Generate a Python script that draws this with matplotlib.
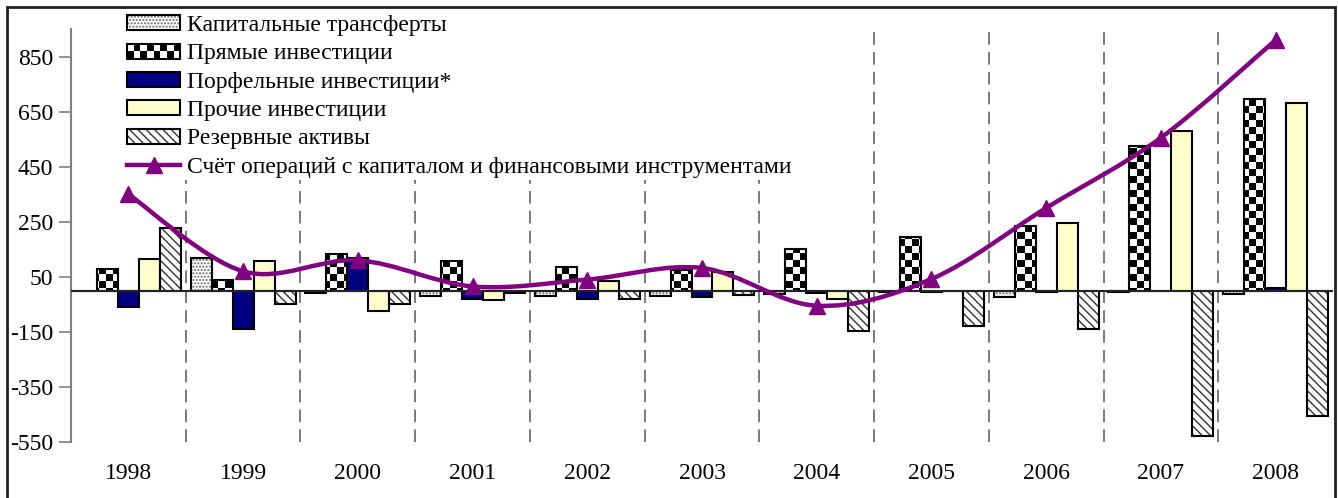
import numpy as np
import matplotlib.pyplot as plt
from matplotlib.patches import Rectangle, Patch, PathPatch
from matplotlib.path import Path
from matplotlib.lines import Line2D
from matplotlib.legend_handler import HandlerBase

plt.rcParams['font.family'] = ['Liberation Serif', 'DejaVu Serif']
plt.rcParams['hatch.linewidth'] = 1.0
plt.rcParams['axes.unicode_minus'] = False

years = ['1998', '1999', '2000', '2001', '2002', '2003', '2004', '2005', '2006', '2007', '2008']
capital = [0, 120, -10, -20, -20, -18, -12, -5, -23, -5, -14]
direct = [79, 40, 132, 107, 86, 76, 152, 194, 234, 525, 694]
portfolio = [-60, -139, 118, -30, -29, -25, -8, -5, -4, -3, 10]
other = [116, 109, -76, -33, 36, 68, -30, 0, 245, 579, 682]
reserves = [229, -50, -50, -10, -29, -16, -148, -130, -141, -530, -455]
account = [350, 70, 110, 15, 40, 82, -55, 42, 300, 555, 910]

labels = ['Капитальные трансферты', 'Прямые инвестиции', 'Порфельные инвестиции*',
          'Прочие инвестиции', 'Резервные активы',
          'Счёт операций с капиталом и финансовыми инструментами']

NAVY = '#000080'
YELLOW = '#FFFFCC'
PURPLE = '#800080'

W, H = 1338, 498
fig = plt.figure(figsize=(W / 100, H / 100), dpi=100)
ax = fig.add_axes([71 / W, 1 - 442 / H, (1333 - 71) / W, (442 - 29) / H])

x = np.arange(len(years))
bw = 0.183
ymin, ymax = -550, 950

# vertical dashed separators between years
for sep in np.arange(0.5, len(years) - 0.5):
    ax.axvline(sep, color='#707070', lw=1.3, ls=(0, (7, 4)), zorder=0)

# capital transfers: gray dots + black edge
ax.bar(x - 2 * bw, capital, bw, color='white', edgecolor='#666666', hatch='.....', lw=0, zorder=2)
ax.bar(x - 2 * bw, capital, bw, fill=False, edgecolor='black', lw=1.5, zorder=3)

# direct investment: checkerboard texture clipped to bars
dbars = ax.bar(x - bw, direct, bw, color='none', edgecolor='black', lw=1.5, zorder=3)
sq = 7.0
nx, ny = int((1333 - 71) / sq), int((442 - 29) / sq)
board = (np.add.outer(np.arange(ny), np.arange(nx)) % 2).astype(float)
img = ax.imshow(board, cmap='gray', extent=(-0.5, len(years) - 0.5, ymin, ymax),
                aspect='auto', interpolation='nearest', zorder=2, origin='lower')
clip = Path.make_compound_path(*[b.get_path().transformed(b.get_patch_transform()) for b in dbars])
img.set_clip_path(clip, ax.transData)

ax.bar(x, portfolio, bw, color=NAVY, edgecolor='black', lw=1.5, zorder=3)
ax.bar(x + bw, other, bw, color=YELLOW, edgecolor='black', lw=1.5, zorder=3)
ax.bar(x + 2 * bw, reserves, bw, color='white', edgecolor='#333333', hatch='\\\\\\\\', lw=0, zorder=2)
ax.bar(x + 2 * bw, reserves, bw, fill=False, edgecolor='black', lw=1.5, zorder=3)

ax.axhline(0, color='#222222', lw=1.5, zorder=4)

# smoothed line (cubic bezier through the points)
pts = np.column_stack([x, account]).astype(float)
ext = np.vstack([pts[0], pts, pts[-1]])
verts = [pts[0]]
codes = [Path.MOVETO]
for i in range(len(pts) - 1):
    p0, p1, p2, p3 = ext[i], ext[i + 1], ext[i + 2], ext[i + 3]
    verts += [p1 + (p2 - p0) / 6, p2 - (p3 - p1) / 6, p2]
    codes += [Path.CURVE4] * 3
ax.add_patch(PathPatch(Path(verts, codes), fill=False, edgecolor=PURPLE, lw=3.2, zorder=5))
ax.plot(x, account, ls='none', marker='^', ms=12, color=PURPLE, zorder=6)

ax.set_xlim(-0.5, len(years) - 0.5)
ax.set_ylim(ymin, ymax)
ax.set_yticks([-550, -350, -150, 50, 250, 450, 650, 850])
ax.set_xticks(x)
ax.set_xticklabels(years)
ax.tick_params(axis='x', length=0, pad=15, labelsize=17)
ax.tick_params(axis='y', length=9, width=1.2, color='#808080', labelsize=17, pad=4)
for s in ['top', 'right', 'bottom']:
    ax.spines[s].set_visible(False)
ax.spines['left'].set_color('#808080')
ax.spines['left'].set_linewidth(1.5)


class HandlerChecker(HandlerBase):
    def create_artists(self, legend, orig_handle, xd, yd, width, height, fontsize, trans):
        arts = [Rectangle((-xd, -yd), width, height, facecolor='white', edgecolor='none', transform=trans)]
        ncol, nrow = 8, 2
        cw, ch = width / ncol, height / nrow
        for r in range(nrow):
            for c in range(ncol):
                if (r + c) % 2 == 0:
                    arts.append(Rectangle((-xd + c * cw, -yd + r * ch), cw, ch, facecolor='black',
                                          edgecolor='none', transform=trans))
        arts.append(Rectangle((-xd, -yd), width, height, fill=False, edgecolor='black', lw=1.5, transform=trans))
        return arts


checker_handle = Patch(facecolor='white')
handles = [
    (Patch(facecolor='white', edgecolor='#666666', hatch='.....', lw=0), Patch(fill=False, edgecolor='black', lw=1.5)),
    checker_handle,
    Patch(facecolor=NAVY, edgecolor='black', lw=1.5),
    Patch(facecolor=YELLOW, edgecolor='black', lw=1.5),
    (Patch(facecolor='white', edgecolor='#333333', hatch='\\\\\\\\', lw=0), Patch(fill=False, edgecolor='black', lw=1.5)),
    Line2D([], [], color=PURPLE, lw=3.2, marker='^', ms=12),
]
leg = fig.legend(handles, labels, loc='upper left', bbox_to_anchor=(113 / W, 1 - 1 / H),
                 fontsize=17, frameon=True, fancybox=False, framealpha=1, borderpad=0.1,
                 labelspacing=0.31, handlelength=2.25, handleheight=0.6, handletextpad=0.3,
                 handler_map={checker_handle: HandlerChecker()})
leg.get_frame().set_edgecolor('none')
leg.get_frame().set_facecolor('white')
leg.set_zorder(10)

# outer frame
fig.patches.append(Rectangle((7 / W, -0.02), (1335 - 7) / W, 1.02 - 7 / H, fill=False,
                             edgecolor='#222222', lw=2, transform=fig.transFigure))

fig.savefig('out.png', dpi=100)
